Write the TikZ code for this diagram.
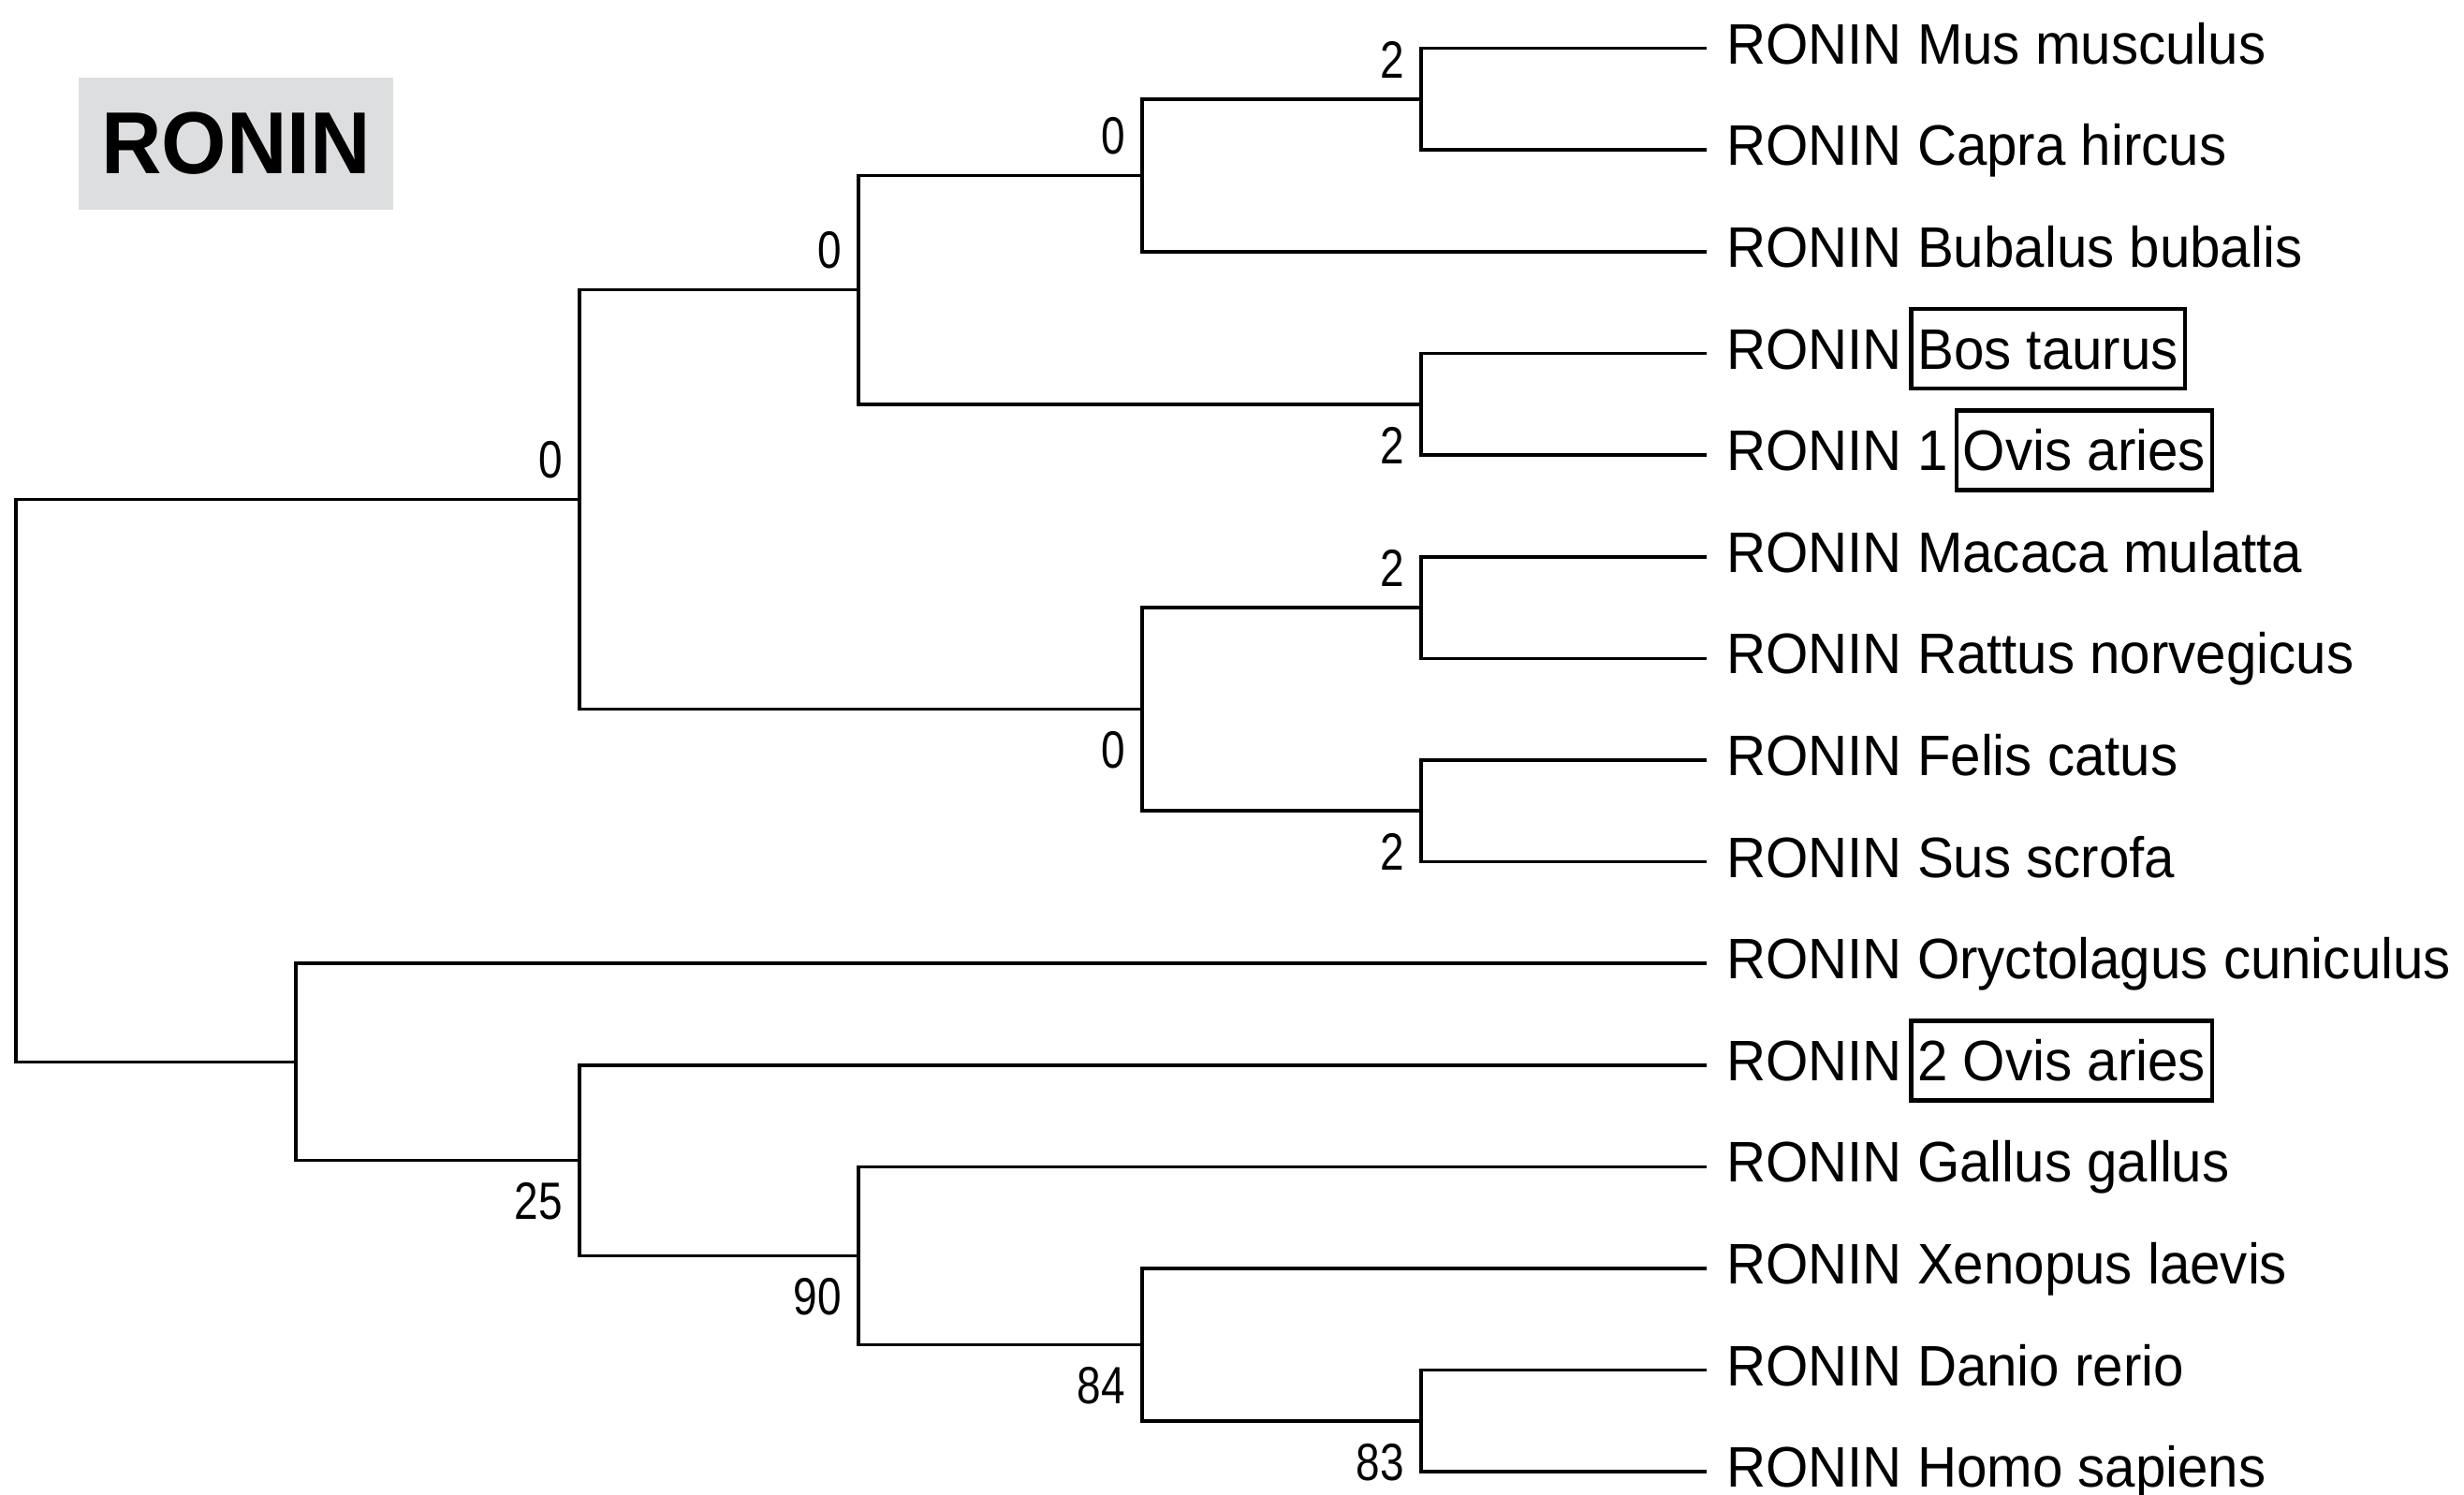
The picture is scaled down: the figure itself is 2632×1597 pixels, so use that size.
\documentclass[tikz,border=0pt]{standalone}
\usepackage{fontspec}
\setmainfont[FakeStretch=0.955]{Liberation Sans}
\newfontfamily\numfont[FakeStretch=0.82]{Liberation Sans}
\newfontfamily\ttlfont[FakeStretch=0.95]{Liberation Sans}
\definecolor{titlebg}{RGB}{221,222,224}
\newcommand{\leafsize}{\fontsize{61pt}{70pt}\selectfont}
\begin{document}
\begin{tikzpicture}[x=1pt,y=-1pt,
  branch/.style={line width=3.6pt, draw=black},
  leaf/.style={anchor=base west, inner sep=0pt, font=\leafsize},
  hl/.style={draw=black, line width=4.5pt, anchor=base west, inner xsep=7pt, inner ysep=21pt,
             text height=43pt, text depth=0pt, font=\leafsize},
  bsa/.style={anchor=south east, inner sep=0pt, font=\numfont\fontsize{56pt}{60pt}\selectfont},
  bsb/.style={anchor=north east, inner sep=0pt, font=\numfont\fontsize{56pt}{60pt}\selectfont}]
\useasboundingbox (0,0) rectangle (2632,1597);
\fill[white] (0,0) rectangle (2632,1597);

% title
\node[fill=titlebg, minimum width=336pt, minimum height=141pt, inner sep=0pt,
      font=\ttlfont\bfseries\fontsize{94pt}{100pt}\selectfont] (title) at (252,153.5) {RONIN};

% leaf line ends
\coordinate (lf0)  at (1823,51.7);
\coordinate (lf1)  at (1823,160.3);
\coordinate (lf2)  at (1823,268.9);
\coordinate (lf3)  at (1823,377.5);
\coordinate (lf4)  at (1823,486.1);
\coordinate (lf5)  at (1823,594.7);
\coordinate (lf6)  at (1823,703.3);
\coordinate (lf7)  at (1823,811.9);
\coordinate (lf8)  at (1823,920.5);
\coordinate (lf9)  at (1823,1029.1);
\coordinate (lf10) at (1823,1137.7);
\coordinate (lf11) at (1823,1246.3);
\coordinate (lf12) at (1823,1354.9);
\coordinate (lf13) at (1823,1463.5);
\coordinate (lf14) at (1823,1572.1);

% internal nodes
\coordinate (D) at (1518,106);
\coordinate (C) at (1220,187.45);
\coordinate (E) at (1518,431.8);
\coordinate (B) at (917,309.6);
\coordinate (G) at (1518,649);
\coordinate (H) at (1518,866.2);
\coordinate (F) at (1220,757.6);
\coordinate (A) at (619,533.6);
\coordinate (M) at (1518,1517.8);
\coordinate (L) at (1220,1436.35);
\coordinate (K) at (917,1341.3);
\coordinate (J) at (619,1239.5);
\coordinate (I) at (316,1134.3);
\coordinate (R) at (17,834);

% branches
\draw[branch] (lf0) -| (D) |- (lf1);
\draw[branch] (D) -| (C) |- (lf2);
\draw[branch] (lf3) -| (E) |- (lf4);
\draw[branch] (C) -| (B) |- (E);
\draw[branch] (lf5) -| (G) |- (lf6);
\draw[branch] (lf7) -| (H) |- (lf8);
\draw[branch] (G) -| (F) |- (H);
\draw[branch] (B) -| (A) |- (F);
\draw[branch] (lf13) -| (M) |- (lf14);
\draw[branch] (lf12) -| (L) |- (M);
\draw[branch] (lf11) -| (K) |- (L);
\draw[branch] (lf10) -| (J) |- (K);
\draw[branch] (lf9) -| (I) |- (J);
\draw[branch] (A) -| (R) |- (I);

% support values
\node[bsa] (sD) at ([shift={(-18,-22)}]D) {2};
\node[bsa] (sC) at ([shift={(-18,-22)}]C) {0};
\node[bsb] (sE) at ([shift={(-18,24)}]E) {2};
\node[bsa] (sB) at ([shift={(-18,-22)}]B) {0};
\node[bsa] (sG) at ([shift={(-18,-22)}]G) {2};
\node[bsb] (sH) at ([shift={(-18,24)}]H) {2};
\node[bsb] (sF) at ([shift={(-18,24)}]F) {0};
\node[bsa] (sA) at ([shift={(-18,-22)}]A) {0};
\node[bsb] (sM) at ([shift={(-18,24)}]M) {83};
\node[bsb] (sL) at ([shift={(-18,24)}]L) {84};
\node[bsb] (sK) at ([shift={(-18,24)}]K) {90};
\node[bsb] (sJ) at ([shift={(-18,24)}]J) {25};

% leaf labels
\node[leaf] (t0)  at (1844,68.3)   {RONIN Mus musculus};
\node[leaf] (t1)  at (1844,176.9)  {RONIN Capra hircus};
\node[leaf] (t2)  at (1844,285.5)  {RONIN Bubalus bubalis};
\node[leaf] (t3)  at (1844,394.1)  {RONIN};
\node[hl]   (h3)  at ([xshift=7pt]t3.base east) {Bos taurus};
\node[leaf] (t4)  at (1844,502.7)  {RONIN 1};
\node[hl]   (h4)  at ([xshift=7pt]t4.base east) {Ovis aries};
\node[leaf] (t5)  at (1844,611.3)  {RONIN Macaca mulatta};
\node[leaf] (t6)  at (1844,719.9)  {RONIN Rattus norvegicus};
\node[leaf] (t7)  at (1844,828.5)  {RONIN Felis catus};
\node[leaf] (t8)  at (1844,937.1)  {RONIN Sus scrofa};
\node[leaf] (t9)  at (1844,1045.7) {RONIN Oryctolagus cuniculus};
\node[leaf] (t10) at (1844,1154.3) {RONIN};
\node[hl]   (h10) at ([xshift=7pt]t10.base east) {2 Ovis aries};
\node[leaf] (t11) at (1844,1262.9) {RONIN Gallus gallus};
\node[leaf] (t12) at (1844,1371.5) {RONIN Xenopus laevis};
\node[leaf] (t13) at (1844,1480.1) {RONIN Danio rerio};
\node[leaf] (t14) at (1844,1588.7) {RONIN Homo sapiens};
\end{tikzpicture}
\end{document}
